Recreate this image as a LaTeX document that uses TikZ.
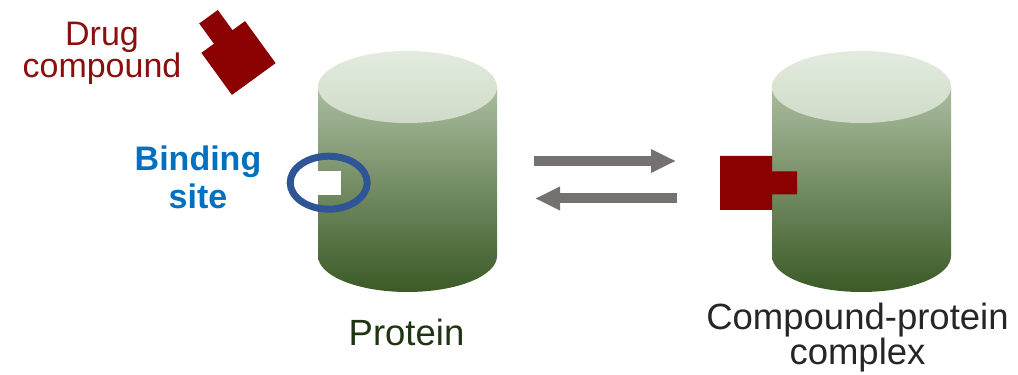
\documentclass[tikz,border=0pt]{standalone}
\usepackage{fontspec}
\setmainfont{Liberation Sans}
\usetikzlibrary{arrows.meta}
\definecolor{drugred}{HTML}{8B0000}
\definecolor{drugtext}{HTML}{8A0F0F}
\definecolor{siteblue}{HTML}{0070C0}
\definecolor{ringblue}{HTML}{2F5597}
\definecolor{arrowgrey}{HTML}{767171}
\definecolor{cyltop}{HTML}{AABD9F}
\definecolor{cylbot}{HTML}{3B5A26}
\definecolor{capA}{HTML}{E3EBDE}
\definecolor{capB}{HTML}{CFDBC8}
\definecolor{protxt}{HTML}{1F3315}
\definecolor{cpxtxt}{HTML}{262626}
\tikzset{
  flow/.style={draw=arrowgrey, line width=10pt, -{Triangle[length=25pt,width=22pt]}},
  compound/.style={fill=drugred, draw=none},
  lbl/.style={inner sep=0pt, anchor=base, align=center},
}
% cylinder: #1 = centre x, #2 = cap centre y, #3 = bottom centre y
\newcommand\drawcyl[3]{%
  \shade[top color=cyltop, bottom color=cylbot]
    (#1-89.5,#2) -- (#1-89.5,#3)
    arc[start angle=180, end angle=360, x radius=89.5, y radius=36]
    -- (#1+89.5,#2) -- cycle;
  \shade[top color=capA, bottom color=capB]
    (#1,#2) ellipse[x radius=89.5, y radius=36];
}
% compound block centred at the origin, tab pointing along +x
\newcommand\compoundshape{%
  \fill[compound] (-26,-27) -- (26,-27) -- (26,-11.5) -- (51,-11.5)
    -- (51,11.5) -- (26,11.5) -- (26,27) -- (-26,27) -- cycle;
}
\begin{document}
\begin{tikzpicture}[x=1pt, y=1pt]
\useasboundingbox (0,0) rectangle (1018,375);

% protein cylinders
\drawcyl{407.5}{288}{119}
\drawcyl{861.5}{288}{119}

% binding pocket and its ring
\fill[white] (316,180) rectangle (341,204);
\draw[ringblue, line width=7pt] (328.7,192.3) ellipse[x radius=38.5, y radius=26.5];

% free drug compound
\begin{scope}[shift={(238.5,317)}, rotate=126]
  \compoundshape
\end{scope}

% bound compound
\begin{scope}[shift={(746,192)}]
  \compoundshape
\end{scope}

% equilibrium arrows
\coordinate (fwdA) at (534,214);
\coordinate (fwdB) at (676,214);
\coordinate (revA) at (677,176.5);
\coordinate (revB) at (535,176.5);
\draw[flow] (fwdA) -- (fwdB);
\draw[flow] (revA) -- (revB);

% labels (base anchor sits on the last line)
\node[lbl, text=drugtext, font=\fontsize{34}{31}\selectfont] (drug) at (102,297) {Drug\\compound};
\node[lbl, text=siteblue, font=\bfseries\fontsize{34}{38}\selectfont] (site) at (198,166) {Binding\\site};
\node[lbl, text=protxt, font=\fontsize{36.5}{33}\selectfont] (prot) at (406.5,29) {Protein};
\node[lbl, text=cpxtxt, font=\fontsize{36.5}{33}\selectfont] (cpx) at (857.5,10) {Compound-protein\\complex};
\end{tikzpicture}
\end{document}
